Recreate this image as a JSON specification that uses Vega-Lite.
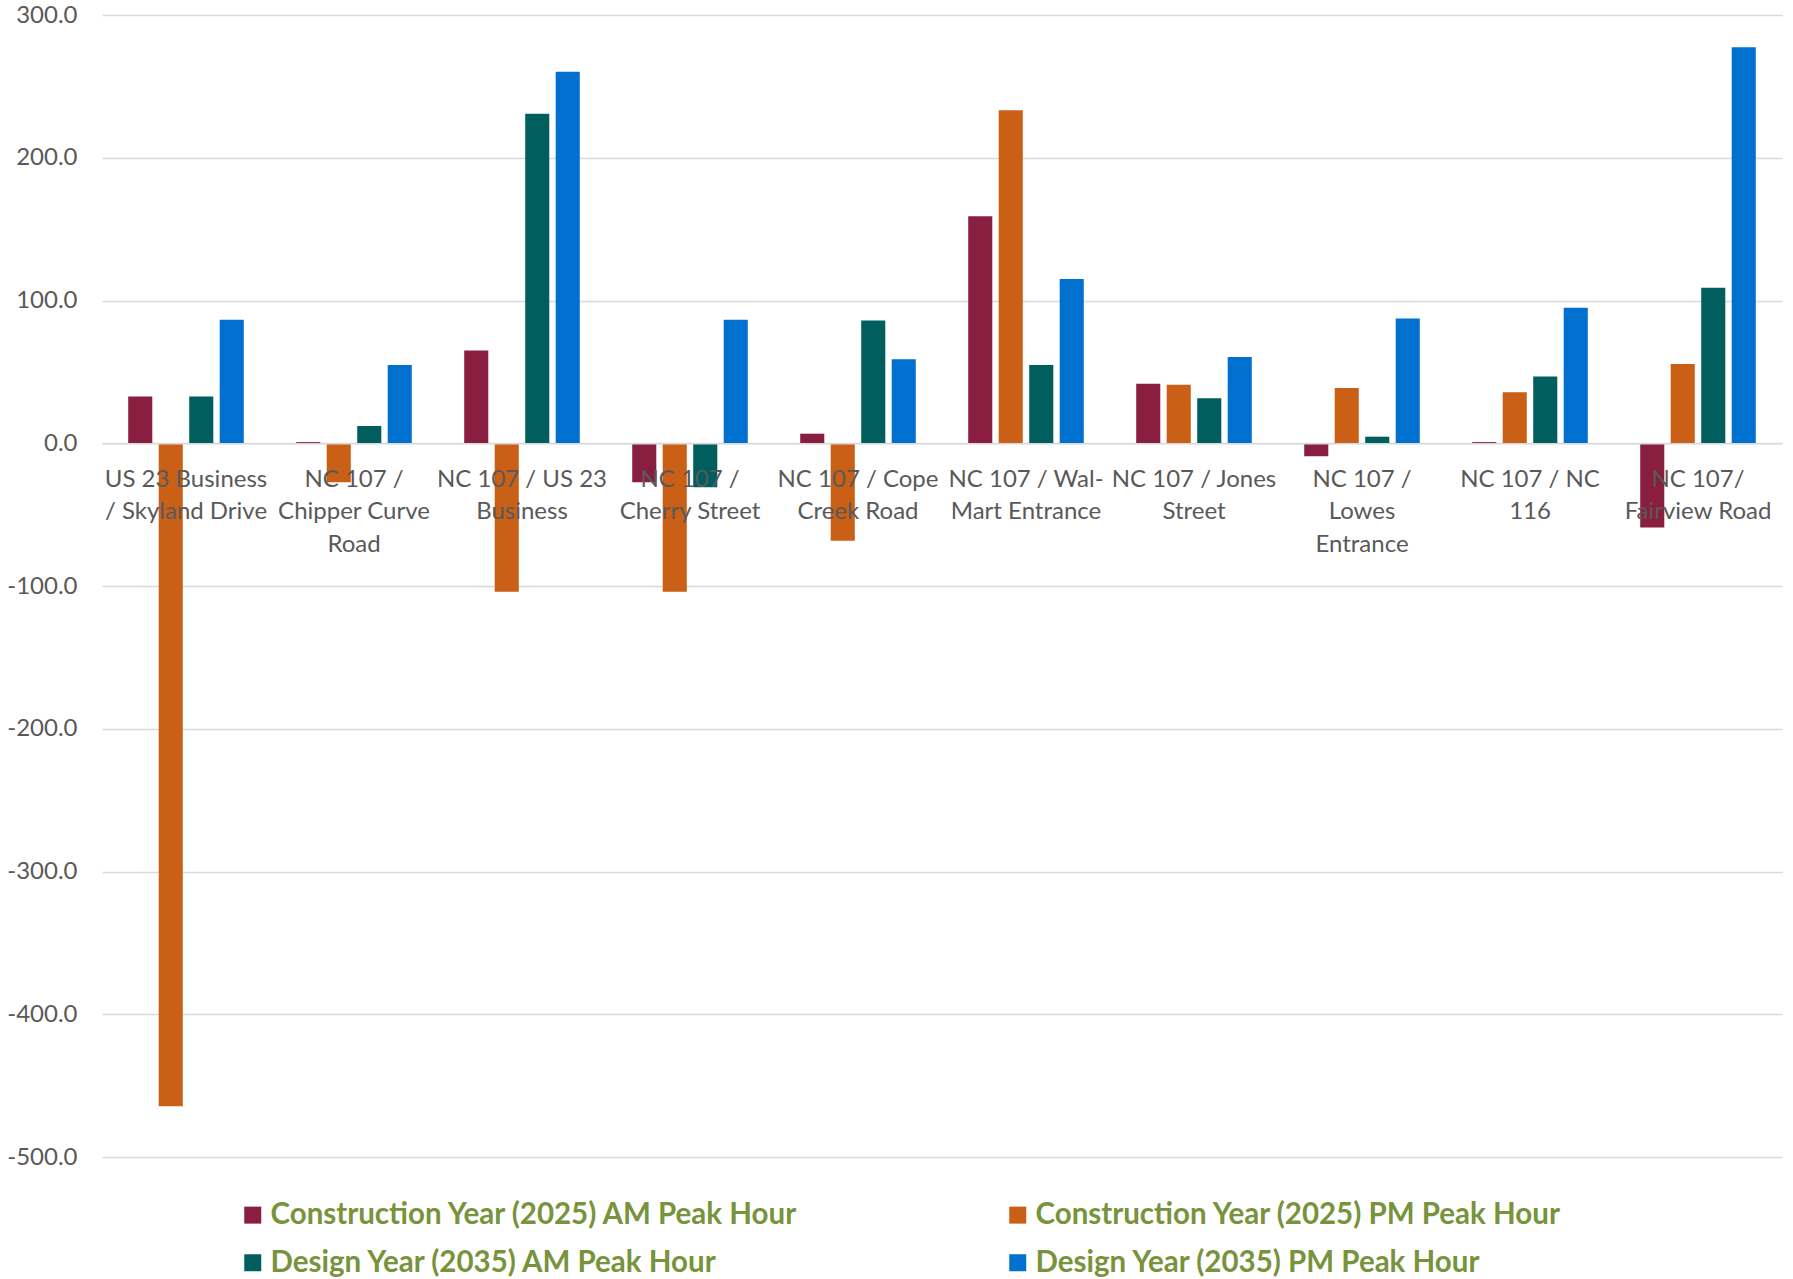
{
  "$schema": "https://vega.github.io/schema/vega-lite/v6.json",
  "autosize": {"type": "none"},
  "width": 1680,
  "height": 1142,
  "padding": {"left": 102, "top": 15, "right": 11, "bottom": 122},
  "background": "white",
  "config": {
    "view": {"stroke": null},
    "font": "Lato"
  },
  "data": {
    "values": [
      {"site": "US 23 Business / Skyland Drive", "series": "Construction Year (2025) AM Peak Hour", "value": 32.8},
      {"site": "US 23 Business / Skyland Drive", "series": "Construction Year (2025) PM Peak Hour", "value": -464.4},
      {"site": "US 23 Business / Skyland Drive", "series": "Design Year (2035) AM Peak Hour", "value": 32.8},
      {"site": "US 23 Business / Skyland Drive", "series": "Design Year (2035) PM Peak Hour", "value": 86.6},
      {"site": "NC 107 / Chipper Curve Road", "series": "Construction Year (2025) AM Peak Hour", "value": 0.8},
      {"site": "NC 107 / Chipper Curve Road", "series": "Construction Year (2025) PM Peak Hour", "value": -27.4},
      {"site": "NC 107 / Chipper Curve Road", "series": "Design Year (2035) AM Peak Hour", "value": 12.1},
      {"site": "NC 107 / Chipper Curve Road", "series": "Design Year (2035) PM Peak Hour", "value": 54.8},
      {"site": "NC 107 / US 23 Business", "series": "Construction Year (2025) AM Peak Hour", "value": 65.0},
      {"site": "NC 107 / US 23 Business", "series": "Construction Year (2025) PM Peak Hour", "value": -104.0},
      {"site": "NC 107 / US 23 Business", "series": "Design Year (2035) AM Peak Hour", "value": 230.9},
      {"site": "NC 107 / US 23 Business", "series": "Design Year (2035) PM Peak Hour", "value": 260.2},
      {"site": "NC 107 / Cherry Street", "series": "Construction Year (2025) AM Peak Hour", "value": -27.4},
      {"site": "NC 107 / Cherry Street", "series": "Construction Year (2025) PM Peak Hour", "value": -104.0},
      {"site": "NC 107 / Cherry Street", "series": "Design Year (2035) AM Peak Hour", "value": -30.9},
      {"site": "NC 107 / Cherry Street", "series": "Design Year (2035) PM Peak Hour", "value": 86.6},
      {"site": "NC 107 / Cope Creek Road", "series": "Construction Year (2025) AM Peak Hour", "value": 6.7},
      {"site": "NC 107 / Cope Creek Road", "series": "Construction Year (2025) PM Peak Hour", "value": -68.3},
      {"site": "NC 107 / Cope Creek Road", "series": "Design Year (2035) AM Peak Hour", "value": 86.0},
      {"site": "NC 107 / Cope Creek Road", "series": "Design Year (2035) PM Peak Hour", "value": 58.9},
      {"site": "NC 107 / Wal-Mart Entrance", "series": "Construction Year (2025) AM Peak Hour", "value": 159.1},
      {"site": "NC 107 / Wal-Mart Entrance", "series": "Construction Year (2025) PM Peak Hour", "value": 233.3},
      {"site": "NC 107 / Wal-Mart Entrance", "series": "Design Year (2035) AM Peak Hour", "value": 54.8},
      {"site": "NC 107 / Wal-Mart Entrance", "series": "Design Year (2035) PM Peak Hour", "value": 115.1},
      {"site": "NC 107 / Jones Street", "series": "Construction Year (2025) AM Peak Hour", "value": 41.7},
      {"site": "NC 107 / Jones Street", "series": "Construction Year (2025) PM Peak Hour", "value": 40.9},
      {"site": "NC 107 / Jones Street", "series": "Design Year (2035) AM Peak Hour", "value": 31.5},
      {"site": "NC 107 / Jones Street", "series": "Design Year (2035) PM Peak Hour", "value": 60.5},
      {"site": "NC 107 / Lowes Entrance", "series": "Construction Year (2025) AM Peak Hour", "value": -9.1},
      {"site": "NC 107 / Lowes Entrance", "series": "Construction Year (2025) PM Peak Hour", "value": 38.7},
      {"site": "NC 107 / Lowes Entrance", "series": "Design Year (2035) AM Peak Hour", "value": 4.6},
      {"site": "NC 107 / Lowes Entrance", "series": "Design Year (2035) PM Peak Hour", "value": 87.4},
      {"site": "NC 107 / NC 116", "series": "Construction Year (2025) AM Peak Hour", "value": 0.8},
      {"site": "NC 107 / NC 116", "series": "Construction Year (2025) PM Peak Hour", "value": 35.8},
      {"site": "NC 107 / NC 116", "series": "Design Year (2035) AM Peak Hour", "value": 46.8},
      {"site": "NC 107 / NC 116", "series": "Design Year (2035) PM Peak Hour", "value": 94.9},
      {"site": "NC 107/ Fairview Road", "series": "Construction Year (2025) AM Peak Hour", "value": -59.1},
      {"site": "NC 107/ Fairview Road", "series": "Construction Year (2025) PM Peak Hour", "value": 55.6},
      {"site": "NC 107/ Fairview Road", "series": "Design Year (2035) AM Peak Hour", "value": 108.9},
      {"site": "NC 107/ Fairview Road", "series": "Design Year (2035) PM Peak Hour", "value": 277.4}
    ]
  },
  "mark": {"type": "bar"},
  "encoding": {
    "x": {
      "field": "site",
      "type": "nominal",
      "sort": null,
      "scale": {"paddingInner": 0.312, "paddingOuter": 0.156},
      "axis": {
        "title": null,
        "orient": "bottom",
        "offset": -713.75,
        "zindex": 1,
        "labelAngle": 0,
        "labelOverlap": false,
        "labelBound": false,
        "labelLimit": 0,
        "labelFont": "Lato",
        "labelFontSize": 24,
        "labelColor": "#595959",
        "labelBaseline": "top",
        "labelPadding": 24,
        "labelLineHeight": 32.5,
        "ticks": false,
        "domainColor": "#d9d9d9",
        "domainWidth": 1.3,
        "labelExpr": "{'US 23 Business / Skyland Drive': ['US 23 Business', '/ Skyland Drive'], 'NC 107 / Chipper Curve Road': ['NC 107 /', 'Chipper Curve', 'Road'], 'NC 107 / US 23 Business': ['NC 107 / US 23', 'Business'], 'NC 107 / Cherry Street': ['NC 107 /', 'Cherry Street'], 'NC 107 / Cope Creek Road': ['NC 107 / Cope', 'Creek Road'], 'NC 107 / Wal-Mart Entrance': ['NC 107 / Wal-', 'Mart Entrance'], 'NC 107 / Jones Street': ['NC 107 / Jones', 'Street'], 'NC 107 / Lowes Entrance': ['NC 107 /', 'Lowes', 'Entrance'], 'NC 107 / NC 116': ['NC 107 / NC', '116'], 'NC 107/ Fairview Road': ['NC 107/', 'Fairview Road']}[datum.label]"
      }
    },
    "xOffset": {
      "field": "series",
      "type": "nominal",
      "sort": null,
      "scale": {"paddingInner": 0.21, "paddingOuter": 0}
    },
    "y": {
      "field": "value",
      "type": "quantitative",
      "scale": {"domain": [-500, 300], "nice": false},
      "axis": {
        "title": null,
        "values": [-500, -400, -300, -200, -100, 0, 100, 200, 300],
        "labelExpr": "(datum.value < 0 ? '-' : '') + format(abs(datum.value), '.1f')",
        "domain": false,
        "ticks": false,
        "labelPadding": 25,
        "labelFont": "Lato",
        "labelFontSize": 24,
        "labelColor": "#595959",
        "gridColor": "#d9d9d9",
        "gridWidth": 1.3
      }
    },
    "color": {
      "field": "series",
      "type": "nominal",
      "sort": null,
      "scale": {
        "domain": [
          "Construction Year (2025) AM Peak Hour",
          "Construction Year (2025) PM Peak Hour",
          "Design Year (2035) AM Peak Hour",
          "Design Year (2035) PM Peak Hour"
        ],
        "range": ["#8a1e41", "#ca5f16", "#005f5e", "#0071ce"]
      },
      "legend": {
        "title": null,
        "orient": "none",
        "legendX": 136,
        "legendY": 1185,
        "direction": "horizontal",
        "columns": 2,
        "columnPadding": 204,
        "rowPadding": 17,
        "symbolType": "square",
        "symbolSize": 289,
        "symbolStrokeWidth": 0,
        "symbolOpacity": 1,
        "labelFont": "Lato",
        "labelFontSize": 29.5,
        "labelFontWeight": "bold",
        "labelColor": "#77933c",
        "labelLimit": 0,
        "labelOffset": 3
      }
    }
  }
}
